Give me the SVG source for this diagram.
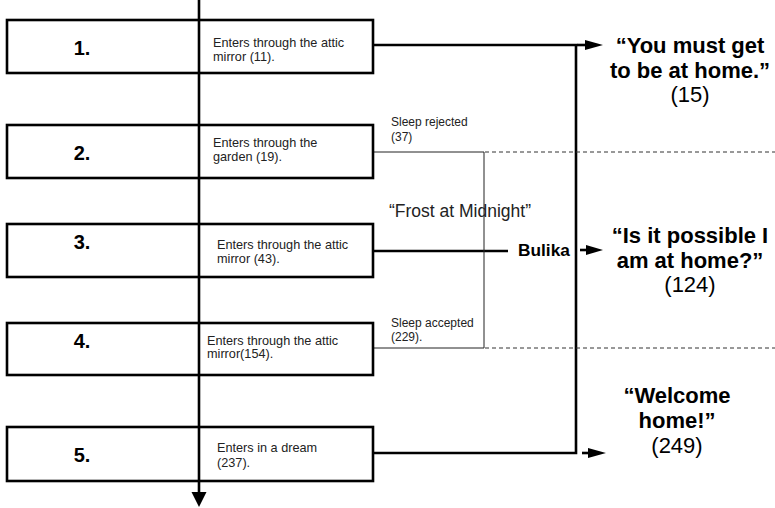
<svg xmlns="http://www.w3.org/2000/svg" width="775" height="508" viewBox="0 0 775 508">
<style>
.box{fill:#fff;stroke:#000;stroke-width:2.6}
.num{font-family:"Liberation Sans",Arial,sans-serif;font-weight:bold;font-size:20px;fill:#000;text-anchor:middle}
.txt{font-family:"Liberation Sans",Arial,sans-serif;font-size:12.7px;fill:#222}
.small{font-family:"Liberation Sans",Arial,sans-serif;font-size:12px;fill:#222}
.quote{font-family:"Liberation Sans",Arial,sans-serif;font-weight:bold;font-size:22px;fill:#000;text-anchor:middle}
.ref{font-family:"Liberation Sans",Arial,sans-serif;font-size:22px;fill:#000;text-anchor:middle}
.thick{fill:none;stroke:#000;stroke-width:2.6}
.thin{fill:none;stroke:#222;stroke-width:1}
.dash{fill:none;stroke:#333;stroke-width:1;stroke-dasharray:4 3}
.head{fill:#000}
</style>
<g id="connectors">
  <line class="thick" x1="199" y1="0" x2="199" y2="494"/>
  <polygon class="head" points="191.5,492 206.5,492 199,507"/>
  <polyline class="thick" points="373,45 576,45 576,453 373,453"/>
  <line class="thick" x1="577" y1="45" x2="588" y2="45"/>
  <polygon class="head" points="585,40 603,45 585,50"/>
  <line class="thick" x1="582" y1="453" x2="592" y2="453"/>
  <polygon class="head" points="588,448 606,453 588,458"/>
  <line class="thick" x1="373" y1="251" x2="508" y2="251"/>
  <line class="thick" x1="580" y1="250" x2="590" y2="250"/>
  <polygon class="head" points="586,245 603,250 586,255"/>
  <polyline class="thin" points="373,152 484,152 484,348 373,348"/>
  <line class="dash" x1="485" y1="152" x2="775" y2="152"/>
  <line class="dash" x1="485" y1="348" x2="775" y2="348"/>
</g>
<g id="node1">
  <rect class="box" x="7" y="20" width="366" height="53"/>
  <line class="thick" x1="199" y1="20" x2="199" y2="73"/>
  <text class="num" x="82" y="55">1.</text>
  <text class="txt" x="213" y="47">Enters through the attic</text>
  <text class="txt" x="213" y="61">mirror (11).</text>
</g>
<g id="node2">
  <rect class="box" x="7" y="125" width="366" height="53"/>
  <line class="thick" x1="199" y1="125" x2="199" y2="178"/>
  <text class="num" x="82" y="160">2.</text>
  <text class="txt" x="213" y="147">Enters through the</text>
  <text class="txt" x="213" y="161">garden (19).</text>
</g>
<g id="node3">
  <rect class="box" x="7" y="224" width="366" height="53"/>
  <line class="thick" x1="199" y1="224" x2="199" y2="277"/>
  <text class="num" x="82" y="249">3.</text>
  <text class="txt" x="217" y="249">Enters through the attic</text>
  <text class="txt" x="217" y="263">mirror (43).</text>
</g>
<g id="node4">
  <rect class="box" x="7" y="323" width="366" height="52"/>
  <line class="thick" x1="199" y1="323" x2="199" y2="375"/>
  <text class="num" x="82" y="348">4.</text>
  <text class="txt" x="207" y="345">Enters through the attic</text>
  <text class="txt" x="207" y="358">mirror(154).</text>
</g>
<g id="node5">
  <rect class="box" x="7" y="427" width="366" height="54"/>
  <line class="thick" x1="199" y1="427" x2="199" y2="481"/>
  <text class="num" x="82" y="462">5.</text>
  <text class="txt" x="217" y="452">Enters in a dream</text>
  <text class="txt" x="217" y="467">(237).</text>
</g>
<g id="labels">
  <text class="small" x="391" y="126">Sleep rejected</text>
  <text class="small" x="391" y="141">(37)</text>
  <text class="small" x="391" y="327">Sleep accepted</text>
  <text class="small" x="391" y="341">(229).</text>
  <text x="389" y="217" font-family="Liberation Sans, Arial, sans-serif" font-size="17.5" fill="#222">“Frost at Midnight”</text>
  <text x="518" y="256" font-family="Liberation Sans, Arial, sans-serif" font-size="17.3" font-weight="bold" fill="#000">Bulika</text>
</g>
<g id="quote1">
  <text class="quote" x="690" y="53">“You must get</text>
  <text class="quote" x="690" y="78">to be at home.”</text>
  <text class="ref" x="690" y="102">(15)</text>
</g>
<g id="quote2">
  <text class="quote" x="690" y="243">“Is it possible I</text>
  <text class="quote" x="690" y="268">am at home?”</text>
  <text class="ref" x="690" y="292">(124)</text>
</g>
<g id="quote3">
  <text class="quote" x="677" y="403">“Welcome</text>
  <text class="quote" x="677" y="428">home!”</text>
  <text class="ref" x="677" y="453">(249)</text>
</g>
</svg>
